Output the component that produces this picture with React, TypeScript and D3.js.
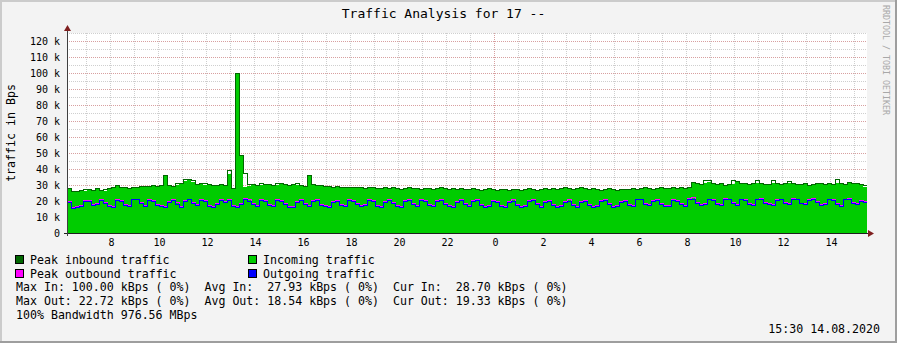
import React from 'react';
import * as d3 from 'd3';

const START = Date.UTC(2020, 7, 13, 6, 12, 30);
const END = Date.UTC(2020, 7, 14, 15, 32, 30);
const STEP_MIN = 10;

// values in kBps, one every 10 minutes
const incoming = [
  27.5, 25.5, 26, 26.5, 26.5, 27, 26.5, 27.5, 26.5, 26.5,
  27.5, 28, 29.5, 28.5, 28, 27.5, 28, 28.5, 28.5, 29,
  29, 29.5, 29, 29.5, 35.5, 29.5, 29, 30, 30.5, 32.5,
  33, 32, 30, 30.5, 30, 30, 29.5, 29.5, 30, 29.5,
  37, 27.5, 100, 49, 28.5, 29.5, 30, 29.5, 30, 30,
  30, 29.5, 30, 30.5, 30, 29.5, 30, 30, 29.5, 29,
  36, 30, 29.5, 29.5, 29, 29, 28.5, 29, 28.5, 28.5,
  28, 28.5, 28, 28, 27.5, 28, 28, 27.5, 27.5, 28,
  27.5, 28, 27.5, 27, 27.5, 28, 27.5, 27.5, 27, 27.5,
  27.5, 27, 27.5, 28, 27.5, 27, 27.5, 27, 27.5, 27,
  27, 27.5, 27, 26.5, 27, 27.5, 27, 26.5, 27, 27,
  26.5, 27, 27, 26.5, 27, 27.5, 27, 26.5, 27, 27.5,
  27, 27.5, 27, 27.5, 28, 27.5, 27, 27.5, 28, 27.5,
  27, 27.5, 27, 26.5, 27, 27.5, 27, 26.5, 27, 27,
  27, 27.5, 27, 27.5, 28, 27.5, 27, 27.5, 28, 27.5,
  27.5, 28, 27.5, 28, 27.5, 28, 31, 30.5, 30, 31.5,
  32, 30.5, 30, 30.5, 29.5, 30, 30.5, 32, 31, 30.5,
  30, 30.5, 31.5, 30.5, 30, 30, 31.5, 30.5, 30, 31,
  31.5, 30.5, 30, 30, 30.5, 29.5, 30, 30.5, 31, 30,
  30.5, 30, 31, 30.5, 30, 31.5, 31, 30.5, 30, 29,
];

const peakIn = [
  28, 26.5, 26.5, 27, 27.5, 27.5, 27, 28, 27, 27.5,
  28, 29, 30, 29, 28.5, 28, 28.5, 29, 29.5, 29.5,
  29.5, 30, 29.5, 30, 36, 30, 29.5, 31, 31.5, 33.5,
  34, 33, 30.5, 31, 31, 30.5, 30, 30, 30.5, 30,
  39.5, 28, 100, 49, 37.5, 30.5, 30.5, 30, 31, 30.5,
  30.5, 30, 31, 31, 30.5, 30, 30.5, 31, 30, 29.5,
  36.5, 30.5, 30, 30, 29.5, 29.5, 29, 29.5, 29, 29,
  28.5, 29, 28.5, 28.5, 28, 28.5, 29, 28, 28, 28.5,
  28, 28.5, 28, 27.5, 28, 29, 28, 28, 27.5, 28,
  28, 27.5, 28, 29, 28, 27.5, 28, 27.5, 28, 27.5,
  27.5, 28, 27.5, 27, 27.5, 28, 27.5, 27, 27.5, 27.5,
  27, 27.5, 27.5, 27, 27.5, 28, 27.5, 27, 27.5, 28,
  27.5, 28, 27.5, 28, 28.5, 28, 27.5, 28, 28.5, 28,
  27.5, 28, 27.5, 27, 27.5, 28, 27.5, 27, 27.5, 27.5,
  27.5, 28, 27.5, 28, 28.5, 28, 27.5, 28, 28.5, 28,
  28, 28.5, 28, 28.5, 28, 28.5, 32, 31, 30.5, 33,
  33, 31, 30.5, 31, 30, 30.5, 33, 32.5, 31.5, 31,
  30.5, 31, 33, 31, 30.5, 30.5, 33, 31, 30.5, 31.5,
  32.5, 31, 30.5, 30.5, 31, 30, 30.5, 31, 31.5, 30.5,
  31, 30.5, 33.5, 31, 30.5, 32, 31.5, 31, 30.5, 30,
];

const outgoing = [
  19.5, 15.5, 16.5, 17, 20, 20, 17.5, 18, 20.5, 19,
  17, 16.5, 20.5, 20, 17.5, 17, 21, 21, 19, 17,
  20.5, 20, 17.5, 17, 16.5, 19.5, 20.5, 18, 16.5, 20,
  21, 19, 17.5, 20.5, 20, 17, 16.5, 18, 20.5, 19.5,
  20.5, 17, 16.5, 18, 21, 20, 18, 17, 20.5, 20,
  17.5, 17, 20.5, 20, 18, 16.5, 16.5, 19.5, 20.5, 18,
  17, 20, 20.5, 17.5, 17, 16.5, 19.5, 20, 17.5, 17,
  20.5, 20, 18, 17, 17.5, 20.5, 20, 17, 16.5, 19.5,
  20.5, 19, 17, 16.5, 20, 20.5, 18, 17, 20.5, 20,
  17.5, 17, 20, 20.5, 18, 17, 16.5, 19.5, 20.5, 18,
  17, 20, 20.5, 17.5, 16.5, 17, 20, 19.5, 17, 16.5,
  19.5, 20, 17.5, 16.5, 17, 20, 20.5, 18, 16.5, 19.5,
  20, 17.5, 16.5, 17, 19.5, 20, 17.5, 16.5, 19.5, 20,
  17.5, 16.5, 17, 20, 20.5, 18, 16.5, 17, 19.5, 20,
  17.5, 17, 21, 21, 18, 17.5, 20, 20.5, 18, 17,
  17, 20.5, 20, 18, 17, 21.5, 21.5, 19, 17.5, 18,
  21, 20.5, 18, 17.5, 21.5, 21, 19, 17.5, 21, 20.5,
  18, 17.5, 21, 21.5, 19, 18, 17.5, 20.5, 21, 19,
  18, 21.5, 21, 18.5, 18, 20.5, 21.5, 19.5, 17.5, 18,
  21, 20.5, 18, 17, 21, 21.5, 19, 18, 20, 19.5,
];

const peakOut = [
  20, 16, 17, 17.5, 20.5, 20.5, 18, 18.5, 21, 19.5,
  17.5, 17, 21, 20.5, 18, 17.5, 21.5, 21.5, 19.5, 17.5,
  21, 20.5, 18, 17.5, 17, 20, 21, 19.5, 17, 20.5,
  21.5, 19.5, 18, 21, 20.5, 17.5, 17, 18.5, 21, 20,
  21, 17.5, 17, 18.5, 22, 21, 18.5, 17.5, 21, 20.5,
  18, 17.5, 21.5, 20.5, 18.5, 17, 17, 20, 21, 18.5,
  17.5, 20.5, 21, 18, 17.5, 17, 20, 20.5, 18, 17.5,
  21, 20.5, 18.5, 17.5, 18, 21.5, 20.5, 17.5, 17, 20,
  21, 19.5, 17.5, 17, 20.5, 21.5, 18.5, 17.5, 21, 20.5,
  18, 17.5, 20.5, 21.5, 18.5, 17.5, 17, 20, 21.5, 18.5,
  17.5, 20.5, 21, 18, 17, 17.5, 20.5, 20, 17.5, 17,
  20, 21, 18, 17, 17.5, 20.5, 21, 18.5, 17, 20,
  20.5, 18, 17, 17.5, 20, 21, 18, 17, 20, 20.5,
  18, 17, 17.5, 20.5, 21, 18.5, 17, 17.5, 20, 20.5,
  18, 17.5, 21.5, 21.5, 18.5, 18, 20.5, 21.5, 18.5, 17.5,
  17.5, 21, 20.5, 18.5, 17.5, 22, 22.5, 19.5, 18, 18.5,
  21.5, 21, 18.5, 18, 22, 21.5, 19.5, 18, 21.5, 21,
  18.5, 18, 21.5, 22, 19.5, 18.5, 18, 21, 21.5, 19.5,
  18.5, 22, 21.5, 19, 18.5, 21, 22, 20, 18, 18.5,
  21.5, 21, 18.5, 17.5, 21.5, 22, 19.5, 18.5, 20.5, 20,
];

const yMajorTicks = [0, 10, 20, 30, 40, 50, 60, 70, 80, 90, 100, 110, 120];
const yMinorTicks = [5, 15, 25, 35, 45, 55, 65, 75, 85, 95, 105, 115, 125];

const TITLE = 'Traffic Analysis for 17 --';
const Y_LABEL = 'traffic in Bps';
const WATERMARK = 'RRDTOOL / TOBI OETIKER';
const TIMESTAMP = '15:30 14.08.2020';

const legendItems = [
  { label: 'Peak inbound traffic', color: '#006600', col: 0, row: 0 },
  { label: 'Incoming traffic', color: '#00CC00', col: 1, row: 0 },
  { label: 'Peak outbound traffic', color: '#FF00FF', col: 0, row: 1 },
  { label: 'Outgoing traffic', color: '#0000FF', col: 1, row: 1 },
];

const statLines = [
  'Max In: 100.00 kBps ( 0%)  Avg In:  27.93 kBps ( 0%)  Cur In:  28.70 kBps ( 0%)',
  'Max Out: 22.72 kBps ( 0%)  Avg Out: 18.54 kBps ( 0%)  Cur Out: 19.33 kBps ( 0%)',
  '100% Bandwidth 976.56 MBps',
];

const W = 897;
const H = 343;
const PL = 67;
const PR = 867;
const PT = 33;
const PB = 233;
const FONT = '"DejaVu Sans Mono", monospace';

type Pt = { t: Date; v: number };

function toPoints(vals: number[]): Pt[] {
  const pts = vals.map((v, i) => ({ t: new Date(START + i * STEP_MIN * 60000), v }));
  pts.push({ t: new Date(END), v: vals[vals.length - 1] });
  return pts;
}

export default function App() {
  const x = d3.scaleUtc().domain([new Date(START), new Date(END)]).range([PL, PR]);
  const y = d3.scaleLinear().domain([0, 125]).range([PB, PT]);

  const area = d3
    .area<Pt>()
    .x((d) => x(d.t))
    .y0(y(0))
    .y1((d) => Math.round(y(d.v)))
    .curve(d3.curveStepAfter);
  const line = d3
    .line<Pt>()
    .x((d) => x(d.t))
    .y((d) => Math.round(y(d.v)) + 0.5)
    .curve(d3.curveStepAfter);

  const hours = d3.utcHour.range(new Date(START), new Date(END));

  return (
    <svg
      width={W}
      height={H}
      style={{ position: 'absolute', left: 0, top: 0, fontFamily: FONT }}
    >
      <rect x={0} y={0} width={W} height={H} fill="#F3F3F3" />
      <rect x={0} y={0} width={W} height={2} fill="#CBCBCB" />
      <rect x={0} y={0} width={2} height={H} fill="#CBCBCB" />
      <rect x={0} y={H - 2} width={W} height={2} fill="#9E9E9E" />
      <rect x={W - 2} y={0} width={2} height={H} fill="#9E9E9E" />

      <rect x={PL} y={PT} width={PR - PL} height={PB - PT} fill="#FFFFFF" />

      {/* minor horizontal grid */}
      {yMinorTicks.map((v) => (
        <line
          key={'hm' + v}
          x1={PL}
          x2={PR}
          y1={Math.round(y(v)) + 0.5}
          y2={Math.round(y(v)) + 0.5}
          stroke="#CFCFCF"
          strokeDasharray="1,1"
          shapeRendering="crispEdges"
        />
      ))}
      {/* vertical grid */}
      {hours.map((h) => {
        const xx = Math.round(x(h)) + 0.5;
        const major = h.getUTCHours() === 0;
        return (
          <line
            key={'v' + h.getTime()}
            x1={xx}
            x2={xx}
            y1={PT}
            y2={PB}
            stroke={major ? '#D8A0A0' : '#CFCFCF'}
            strokeDasharray="1,1"
            shapeRendering="crispEdges"
          />
        );
      })}
      {/* major horizontal grid */}
      {yMajorTicks.slice(1).map((v) => (
        <line
          key={'hM' + v}
          x1={PL}
          x2={PR}
          y1={Math.round(y(v)) + 0.5}
          y2={Math.round(y(v)) + 0.5}
          stroke="#D8A0A0"
          strokeDasharray="1,1"
          shapeRendering="crispEdges"
        />
      ))}

      {/* data */}
      <path d={area(toPoints(incoming)) || ''} fill="#00CC00" shapeRendering="crispEdges" />
      <path
        d={line(toPoints(peakIn)) || ''}
        fill="none"
        stroke="#006600"
        strokeWidth={1}
        shapeRendering="crispEdges"
      />
      <path
        d={line(toPoints(peakOut)) || ''}
        fill="none"
        stroke="#FF00FF"
        strokeWidth={1}
        shapeRendering="crispEdges"
      />
      <path
        d={line(toPoints(outgoing)) || ''}
        fill="none"
        stroke="#0000FF"
        strokeWidth={1}
        shapeRendering="crispEdges"
      />

      {/* axes */}
      <line x1={PL - 3} x2={PR + 3} y1={PB + 0.5} y2={PB + 0.5} stroke="#1F1F1F" shapeRendering="crispEdges" />
      <line x1={PL + 0.5} x2={PL + 0.5} y1={PB + 3} y2={PT - 4} stroke="#3F3F3F" shapeRendering="crispEdges" />
      <path d={`M${PR + 1},${PB - 3} L${PR + 7},${PB + 0.5} L${PR + 1},${PB + 4} Z`} fill="#7F1F1F" />
      <path d={`M${PL - 3},${PT - 2} L${PL + 0.5},${PT - 8} L${PL + 4},${PT - 2} Z`} fill="#7F1F1F" />

      {/* y tick labels */}
      {yMajorTicks.map((v) => (
        <text
          key={'yl' + v}
          x={60}
          y={Math.round(y(v)) + 4}
          fontSize={10}
          textAnchor="end"
          fill="#000"
          style={{ whiteSpace: 'pre' }}
        >
          {v === 0 ? '0' : `${v} k`}
        </text>
      ))}

      {/* x tick labels */}
      {hours
        .filter((h) => h.getUTCHours() % 2 === 0)
        .map((h) => (
          <text
            key={'xl' + h.getTime()}
            x={Math.round(x(h)) + 1.5}
            y={246}
            fontSize={10}
            textAnchor="middle"
            fill="#000"
          >
            {String(h.getUTCHours())}
          </text>
        ))}

      {/* title */}
      <text x={443.5} y={18} fontSize={13} textAnchor="middle" fill="#000">
        {TITLE}
      </text>

      {/* y label */}
      <text
        transform="translate(15,133) rotate(-90)"
        fontSize={11.6}
        textAnchor="middle"
        fill="#000"
      >
        {Y_LABEL}
      </text>

      {/* watermark */}
      <text
        transform="translate(883,60) rotate(90)"
        fontSize={8.3}
        textAnchor="middle"
        fill="#A8A8A8"
      >
        {WATERMARK}
      </text>

      {/* legend */}
      {legendItems.map((it) => {
        const bx = it.col === 0 ? 15 : 248;
        const by = 255 + it.row * 14;
        return (
          <g key={it.label}>
            <rect x={bx + 0.5} y={by + 0.5} width={8} height={8} fill={it.color} stroke="#000" shapeRendering="crispEdges" />
            <text x={bx + 15} y={by + 8.5} fontSize={11.6} fill="#000">
              {it.label}
            </text>
          </g>
        );
      })}

      {statLines.map((s, i) => (
        <text key={'s' + i} x={16} y={291 + i * 14} fontSize={11.6} fill="#000" style={{ whiteSpace: 'pre' }}>
          {s}
        </text>
      ))}

      <text x={880} y={333} fontSize={11.6} textAnchor="end" fill="#000">
        {TIMESTAMP}
      </text>
    </svg>
  );
}
